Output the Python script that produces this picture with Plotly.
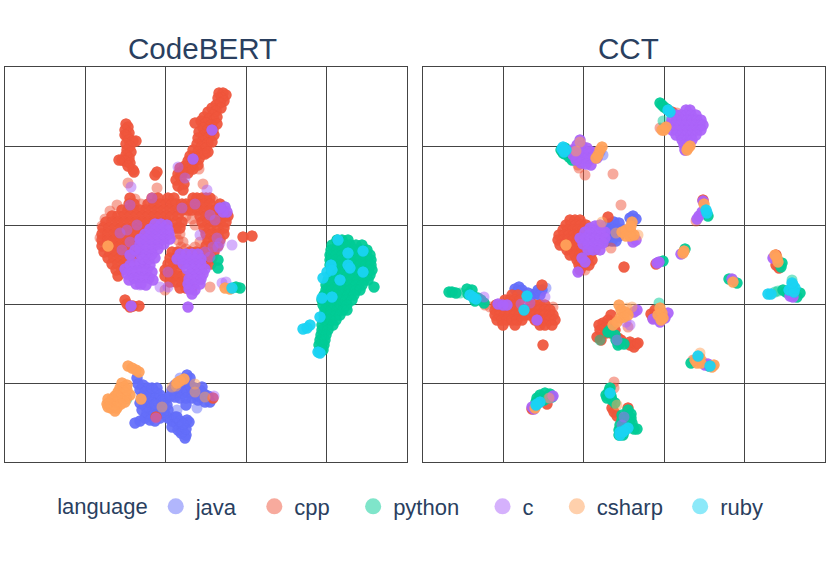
import plotly.graph_objects as go

languages = ["java", "cpp", "python", "c", "csharp", "ruby"]
colors = ["#636EFA", "#EF553B", "#00CC96", "#AB63FA", "#FFA15A", "#19D3F3"]
legend_names = ["java\u00a0\u00a0", "cpp\u00a0\u00a0\u00a0", "python\u00a0\u00a0\u00a0", "c\u00a0\u00a0\u00a0", "csharp\u00a0\u00a0", "ruby"]

# projected embeddings as (x, y)
# spots where many samples pile up and the colour goes solid
codebert_java = [(132,84),(133,78),(138,77),(143,74),(148,72),(152,69),(135,72),(140,70),(145,67),(150,64),(155,67),(137,65),
    (142,62),(147,59),(152,57),(135,59),(140,56),(145,53),(150,51),(137,52),(142,49),(147,46),(152,48),(155,44),(140,44),(145,42),
    (150,41),(135,41),(130,39),(158,60),(161,63),(157,54),(162,57),(160,48),(163,44),(167,41),(172,38),(177,36),(182,42),(184,40),
    (167,35),(173,32),(178,31),(181,27),(180,24),(176,29),(181,33),(170,45),(175,41),(182,87),(185,84),(180,81),(170,77),
    (175,77),(180,75),(185,77),(190,74),(195,72),(167,72),(172,70),(177,69),(182,70),(187,69),(192,67),(170,65),(175,64),(181,64),
    (187,64),(193,62),(199,68),(203,66),(205,60),(200,60),(195,65),(181,57),(147,74),(157,62),(163,52),(152,74),(158,50),(172,45),
    (178,38),(186,75),(197,75),(165,66),(150,58)]
codebert_cpp = [(214,369),(218,369),(221,367),(217,364),(213,364),(219,361),(215,359),(211,357),(216,354),(207,354),(211,351),
    (203,350),(208,347),(199,345),(204,343),(209,342),(196,341),(201,339),(206,337),(190,339),(198,334),(203,332),(208,332),(194,330),
    (199,327),(204,325),(193,324),(198,321),(203,319),(192,318),(196,315),(201,314),(188,312),(193,310),(197,308),(185,306),(190,305),
    (194,303),(183,301),(188,299),(180,296),(185,294),(175,294),(178,290),(183,289),(173,288),(171,282),(176,284),(179,278),(173,276),
    (152,290),(150,287),(212,345),(212,338),(209,327),(207,320),(200,308),(193,297),(188,293),(203,310),(176,290),(178,272),
    (121,338),(123,335),(120,332),(124,329),(122,326),(120,327),(124,322),(128,321),(131,321),(121,318),(125,316),(122,312),(126,310),
    (121,307),(124,304),(117,302),(120,301),(114,302),(125,299),(128,292),(129,290),(123,296),
    (125,264),(147,264),(153,264),(163,264),(169,264),(188,264),(192,264),(197,264),(201,264),(205,264),
    (124,258),(129,258),(143,258),(149,258),(155,258),(161,258),(167,258),(171,258),(177,258),(181,258),(187,258),(193,258),(199,258),(205,258),(215,258),
    (117,252),(123,252),(129,252),(135,252),(141,252),(147,252),(153,252),(159,252),(165,252),(171,252),(177,252),(183,252),(187,252),(193,252),(199,252),(205,252),(211,252),(217,252),
    (107,246),(113,246),(119,246),(125,246),(131,246),(137,246),(143,246),(149,246),(155,246),(161,246),(167,246),(173,246),(195,246),(201,246),(207,246),(213,246),(219,246),(223,246),
    (101,240),(107,240),(113,240),(119,240),(125,240),(131,240),(137,240),(143,240),(149,240),(155,240),(161,240),(171,240),(177,240),(197,240),(203,240),(209,240),(215,240),(221,240),
    (98,234),(104,234),(110,234),(116,234),(122,234),(128,234),(134,234),(140,234),(146,234),(152,234),(171,234),(175,234),(199,234),(205,234),(213,234),(219,234),
    (97,228),(103,228),(109,228),(115,228),(121,228),(127,228),(133,228),(139,228),(145,228),(201,228),(207,228),(213,228),(219,228),
    (97,222),(103,222),(109,222),(115,222),(121,222),(127,222),(133,222),(139,222),(203,222),(209,222),(215,222),
    (97,216),(103,216),(109,216),(115,216),(121,216),(127,216),(135,216),(201,216),(207,216),(213,216),
    (99,210),(105,210),(111,210),(117,210),(123,210),(131,210),(167,210),(173,210),(185,210),(191,210),(197,210),(203,210),(209,210),
    (103,204),(109,204),(115,204),(121,204),(127,204),(165,204),(171,204),(177,204),(183,204),(189,204),(195,204),(201,204),(207,204),
    (107,198),(113,198),(119,198),(163,198),(169,198),(175,198),(200,198),(206,198),(111,192),(117,192),(160,192),(166,192),(172,192),(113,186),
    (160,186),(166,186),(172,186),(178,186),(165,180),(171,180),(177,180),(183,180),(175,174),(181,174),(187,174),
    (120,162),(125,155),(128,156),(122,158),(134,156),(238,225),(247,226),(208,64),(151,45)]
codebert_python = [(332,222),(337,222),(343,222),(327,217),(333,217),(339,217),(345,217),(351,217),(357,217),(326,212),(332,212),
    (338,212),(344,212),(350,212),(356,212),(362,212),(325,207),(331,207),(337,207),(343,207),(349,207),(355,207),(361,207),(365,207),
    (325,202),(331,202),(337,202),(343,202),(349,202),(355,202),(361,202),(366,202),(325,197),(331,197),(337,197),(343,197),(349,197),
    (355,197),(361,197),(366,197),(327,192),(333,192),(339,192),(345,192),(351,192),(357,192),(363,192),(367,192),(325,187),(331,187),
    (337,187),(343,187),(349,187),(355,187),(361,187),(365,187),(323,182),(329,182),(335,182),(341,182),(347,182),(353,182),(359,182),
    (363,182),(321,177),(327,177),(333,177),(339,177),(345,177),(351,177),(357,177),(369,175),(321,172),(327,172),(333,172),(339,172),
    (345,172),(351,172),(355,172),(319,167),(325,167),(331,167),(337,167),(343,167),(349,167),(317,162),(323,162),(329,162),(335,162),
    (341,162),(347,162),(318,157),(324,157),(330,157),(336,157),(342,157),(320,152),(326,152),(332,152),(338,152),(342,152),(319,147),
    (325,147),(331,147),(335,147),(319,142),(325,142),(331,142),(317,137),(323,137),(328,137),(317,132),(323,132),(316,127),(321,127),
    (315,122),(320,122),(314,117),(319,117),(315,112),(318,112),(235,174),(231,175),(213,202),(213,194)]
codebert_c = [(120,193),(125,197),(130,198),(135,199),(140,199),(145,197),(122,188),(127,190),(132,191),(137,192),(142,192),(147,190),
    (124,182),(129,184),(134,185),(139,185),(144,184),(148,182),(131,178),(136,178),(141,177),
    (150,238),(156,238),(162,237),(145,233),(151,233),(157,233),(163,232),(140,228),(146,228),(152,228),(158,228),(164,228),
    (135,223),(141,223),(147,223),(153,223),(159,223),(165,223),(135,218),(141,218),(147,218),(153,218),(159,218),(135,213),(141,213),
    (147,213),(153,213),(135,208),(141,208),(147,208),(138,203),(144,203),(150,204),(130,212),(125,207),
    (175,208),(181,208),(187,208),(193,208),(172,203),(178,203),(184,203),(190,203),(196,203),(178,198),(184,198),(190,198),(196,198),
    (182,193),(188,193),(194,193),(200,193),(186,188),(192,188),(198,188),(184,183),(190,183),(196,183),(183,178),(189,178),(195,178),
    (184,173),(190,172),(187,168),
    (207,332),(188,303),(126,156),(183,155),(220,255),(222,250),(218,250),(215,254)]
codebert_csharp = [(123,96),(127,94),(131,92),(134,90),(117,79),(119,75),(115,74),(118,71),(113,70),(117,67),(110,66),(115,64),
    (107,63),(112,60),(104,59),(109,57),(102,58),(106,54),(112,54),(120,69),(125,67),(136,63),(175,81),(172,79),
    (179,83),(103,216),(220,174),(225,173),(122,77),(121,64),(120,60),(108,62),(103,63),(112,66),(122,72),(116,58),(103,55),(110,51)]
codebert_ruby = [(333,222),(343,209),(358,211),(343,197),(345,194),(358,190),(326,197),(322,190),(318,184),(327,192),(335,182),
    (327,165),(317,164),(315,145),(305,137),(302,134),(298,133),(315,109),(313,110),(227,174)]

cct_java = [(186,238),(191,240),(196,239),(186,232),(191,233),(196,233),(201,232),(186,226),(191,227),(196,226),
    (184,221),(189,221),(193,221),(210,246),(207,244),(213,243),(182,236),(92,173),(96,175),(99,172),(94,170),(115,172),(119,172),
    (112,168),(117,167),(107,165),(105,169)]
cct_cpp = [(249,350),(147,242),(152,242),(157,242),(143,237),(148,237),(153,237),(158,237),(163,237),(140,232),(145,232),(150,232),(155,232),(160,232),
    (136,227),(141,227),(146,227),(151,227),(156,227),(135,222),(140,222),(145,222),(150,222),(155,222),(137,217),(142,217),(147,217),
    (152,217),(157,217),(144,212),(149,212),(154,212),(159,212),(164,212),(172,212),(147,207),(152,207),(157,207),(162,207),(167,207),
    (154,202),(159,202),(164,202),(169,202),(156,197),(161,197),(166,197),(157,192),(185,245),(201,195),
    (89,167),(95,167),(82,162),(87,162),(92,162),(97,162),(73,157),(78,157),(83,157),(88,157),(93,157),(107,157),(112,157),(117,157),(122,157),
    (72,152),(77,152),(82,152),(87,152),(92,152),(97,152),(107,152),(112,152),(117,152),(122,152),(127,152),
    (72,147),(77,147),(82,147),(87,147),(92,147),(97,147),(102,147),(107,147),(112,147),(117,147),(122,147),(127,147),(130,147),
    (74,142),(79,142),(84,142),(89,142),(94,142),(99,142),(112,142),(117,142),(122,142),(127,142),(132,142),(80,137),(92,137),(117,137),
    (122,137),(129,137),(120,117),(119,177),
    (188,147),(185,142),(180,139),(176,137),(182,134),(187,135),(177,132),(183,129),(188,129),(174,125),(178,122),(192,132),(195,124),
    (198,122),(207,117),(211,115),(213,118),(207,120),(215,119),(228,148),(232,152),(230,144),
    (189,54),(191,50),(194,46),(205,54),(109,53),(124,58),(280,262),(233,198),(353,207),(356,194),(353,197)]
cct_python = [(237,359),(239,357),(241,355),(244,353),(142,314),(138,312),(142,308),(146,305),(149,302),(140,309),
    (29,170),(26,170),(33,169),(44,173),(49,172),(45,168),(50,166),(55,164),(52,161),(58,162),(61,159),
    (187,132),(192,127),(197,119),(193,122),(195,117),(201,118),(185,130),(268,99),(286,96),
    (187,74),(183,67),(186,71),(188,66),(184,64),(189,62),(192,59),(199,47),(205,52),(208,48),(203,44),(208,44),(199,42),(205,40),(209,39),
    (197,37),(202,36),(207,37),(196,32),(201,31),(211,33),(214,33),(196,27),(200,27),(114,64),(117,67),(122,69),(127,68),(125,64),(121,62),
    (113,60),(129,65),(285,246),(262,213),(240,201),(306,183),(314,179),(359,199),(358,195),(360,172),(363,170),(377,169),(374,165)]
cct_c = [(263,352),(267,352),(253,347),(258,347),(263,347),(268,347),(273,347),(249,342),(254,342),(259,342),(264,342),(269,342),
    (274,342),(278,342),(247,337),(252,337),(257,337),(262,337),(267,337),(272,337),(277,337),(280,337),(249,332),(254,332),(259,332),
    (264,332),(269,332),(274,332),(278,332),(253,327),(258,327),(263,327),(268,327),(273,327),(259,322),(264,322),(269,322),(261,317),
    (265,317),(262,312),
    (157,322),(154,317),(159,316),(164,314),(149,312),(154,311),(159,310),(164,309),(169,310),(174,310),(154,305),(159,304),(164,304),
    (169,304),(174,304),(158,299),(163,298),(168,297),(153,302),(150,307),
    (167,234),(172,236),(177,237),(162,230),(167,229),(172,230),(177,231),(182,230),(157,224),(162,224),(167,224),(172,224),(177,224),
    (182,224),(160,218),(165,218),(170,218),(175,218),(180,219),(165,212),(170,212),(177,212),(159,204),(162,200),(155,190),(210,220),(213,222),
    (75,158),(80,157),(84,157),(114,142),(214,152),(211,150),
    (230,143),(245,149),(242,144),(237,140),(282,97),(285,98),(130,66),(109,55),(111,53),
    (280,261),(276,246),(279,250),(274,243),(258,208),(236,200),(234,199),(309,183),(350,204),(370,165),(367,166)]
cct_csharp = [(239,332),(241,332),(243,335),(264,312),(267,316),(265,314),(175,307),(177,312),(179,315),(173,304),
    (143,217),(199,230),(203,232),(208,230),(203,226),(207,226),(211,227),(209,240),(208,236),
    (196,157),(198,152),(202,150),(197,144),(201,145),(205,147),(190,137),(194,140),(237,154),(239,149),(235,147),
    (240,144),(238,142),(274,99),(272,102),(277,104),(278,99),(291,97),(289,95),(112,54),(281,258),(260,209),
    (261,211),(310,180),(354,204),(355,200),(352,207)]
cct_ruby = [(247,350),(245,352),(140,315),(143,312),(139,313),(141,310),(47,167),(50,165),(53,163),(101,152),(104,166),(275,106),(287,96),
    (187,69),(197,30),(202,32),(205,34),(197,27),(200,30),(117,60),(114,58),(113,57),(284,249),(283,252),(370,177),(366,172),(372,174),
    (371,170),(345,168),(348,168),(369,179)]

# single samples that stay pale
codebert_java_pale = [(175,84),(172,52),(192,54)]
codebert_cpp_pale = [(194,293),(198,278),(123,279),(152,274),(181,246),(187,243),(190,237),(178,220),(176,215),(181,213),(95,224),
    (97,236),(100,243),(105,251),(112,257),(130,263),(136,258),(165,263),(180,255),(208,262),(190,215),(195,220),(160,172),(205,175),
    (171,228),(175,228),(173,222)]
codebert_python_pale = [(220,255),(122,63)]
codebert_c_pale = [(180,284),(126,275),(125,257),(147,264),(177,254),(190,258),(202,272),(173,295),(205,247),(210,242),(115,229),
    (122,232),(132,237),(125,220),(117,212),(215,219),(227,217),(221,180),(217,179),(163,190),(163,175),(155,175),(135,177),(195,227),
    (200,210),(212,224),(213,215),(205,205),(208,215),(151,44),(209,66)]
codebert_csharp_pale = [(157,55),(171,76),(167,75),(190,78),(190,70),(200,65)]
cct_java_pale = [(180,307),(177,310),(123,174)]
cct_cpp_pale = [(254,349),(237,334),(155,297),(156,294),(162,287),(190,288),(153,312),(167,302),(155,307),(162,192),(198,257),(188,214),
    (62,157),(67,155),(130,155),(205,135),(270,102),(280,100),(191,80),(191,74),(273,241)]
cct_python_pale = [(240,341),(37,169),(177,122),(236,159),(369,182),(352,170),(355,171)]
cct_c_pale = [(122,165),(61,165),(98,158),(107,159),(194,122),(207,137),(203,140),(201,45),(199,37),(127,64),(262,312)]
cct_csharp_pale = [(157,320),(153,311),(193,229),(215,227),(179,240),(209,155),(204,154),(277,109),(194,57),(126,64)]

codebert = [codebert_java, codebert_cpp, codebert_python, codebert_c, codebert_csharp, codebert_ruby]
cct = [cct_java, cct_cpp, cct_python, cct_c, cct_csharp, cct_ruby]
codebert_pale = [codebert_java_pale, codebert_cpp_pale, codebert_python_pale, codebert_c_pale, codebert_csharp_pale, []]
cct_pale = [cct_java_pale, cct_cpp_pale, cct_python_pale, cct_c_pale, cct_csharp_pale, []]

fig = go.Figure()

# points of each panel, no legend entry
# solid spots hold several samples at the same place, so they go in 4 times
for i, lang in enumerate(languages):
    for points, pale, xa, ya in [(codebert[i], codebert_pale[i], "x", "y"), (cct[i], cct_pale[i], "x2", "y2")]:
        xs, ys = zip(*(pale + points * 4))
        fig.add_trace(go.Scatter(x=xs, y=ys, mode="markers", xaxis=xa, yaxis=ya, name=lang, legendgroup=lang,
                                 showlegend=False, hoverinfo="skip",
                                 marker=dict(color=colors[i], size=11, opacity=0.5, line_width=0)))

# legend entries with the bigger marker
for i, lang in enumerate(languages):
    fig.add_trace(go.Scatter(x=[None], y=[None], mode="markers", name=legend_names[i], legendgroup=lang,
                             marker=dict(color=colors[i], size=16, opacity=0.5, line_width=0)))

axis_style = dict(showline=True, mirror=True, linecolor="#444", linewidth=1, showgrid=True, gridcolor="#444", gridwidth=1,
                  zeroline=False, showticklabels=False, ticks="", tick0=0)
fig.update_layout(
    width=829, height=574, autosize=False,
    margin=dict(l=5, r=4, t=67, b=112),
    paper_bgcolor="white", plot_bgcolor="white",
    font=dict(family="Liberation Sans", color="#2a3f5f", size=22),
    xaxis=dict(domain=[0, 402 / 820], range=[0, 402], dtick=80.4, **axis_style),
    yaxis=dict(domain=[0, 1], range=[0, 395], dtick=79, **axis_style),
    xaxis2=dict(domain=[418 / 820, 1], range=[0, 402], dtick=80.4, **axis_style),
    yaxis2=dict(domain=[0, 1], range=[0, 395], dtick=79, anchor="x2", **axis_style),
    legend=dict(orientation="h", x=0.0612, y=-0.0595, xanchor="left", yanchor="top",
                title=dict(text="language", font=dict(size=22)), font=dict(size=22), bgcolor="rgba(0,0,0,0)"),
    annotations=[
        dict(text="CodeBERT", x=197.5 / 820, y=1, xref="paper", yref="paper", xanchor="center", yanchor="bottom",
             showarrow=False, font=dict(size=29.6)),
        dict(text="CCT", x=623 / 820, y=1, xref="paper", yref="paper", xanchor="center", yanchor="bottom",
             showarrow=False, font=dict(size=29.6)),
    ],
)

# the page keeps its default 8px body margin otherwise and the figure gets clipped
fig.write_html("out.html", config={"displayModeBar": False}, post_script="document.body.style.margin = '0';")
